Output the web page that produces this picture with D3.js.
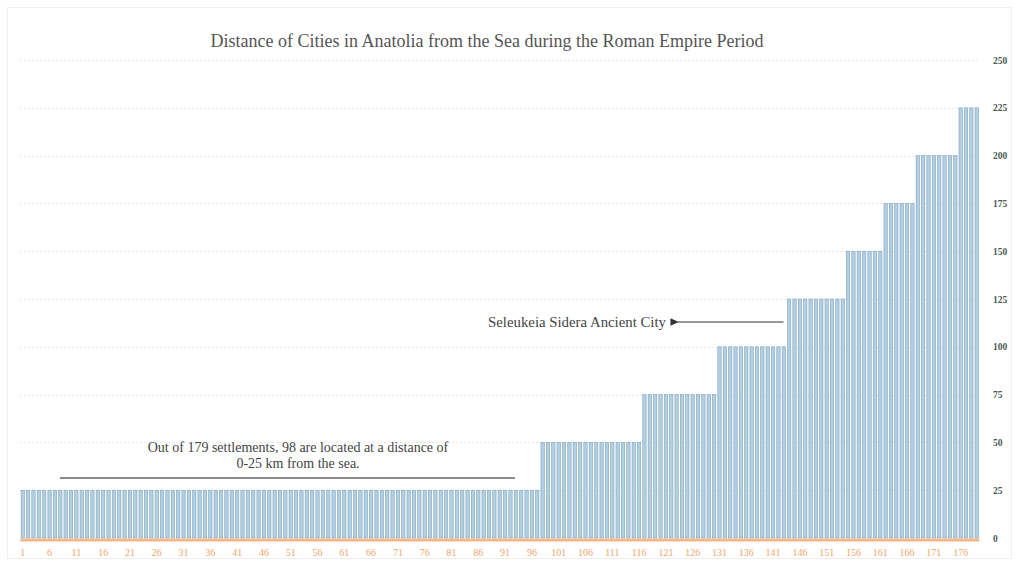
<!DOCTYPE html>
<html>
<head>
<meta charset="utf-8">
<script src="https://cdn.jsdelivr.net/npm/d3@7"></script>
<style>
  html, body { margin: 0; padding: 0; background: #fff; }
  svg { display: block; }
  text { font-family: "Liberation Serif", "Times New Roman", serif; }
</style>
</head>
<body>
<svg id="chart" width="1019" height="566"></svg>
<script>
// ---- data ----
const title = "Distance of Cities in Anatolia from the Sea during the Roman Empire Period";
const values = [
  25,25,25,25,25,25,25,25,25,25,25,25,25,25,25,25,25,25,25,25,
  25,25,25,25,25,25,25,25,25,25,25,25,25,25,25,25,25,25,25,25,
  25,25,25,25,25,25,25,25,25,25,25,25,25,25,25,25,25,25,25,25,
  25,25,25,25,25,25,25,25,25,25,25,25,25,25,25,25,25,25,25,25,
  25,25,25,25,25,25,25,25,25,25,25,25,25,25,25,25,25,
  50,50,50,50,50,50,50,50,50,50,50,50,50,50,50,50,50,50,50,
  75,75,75,75,75,75,75,75,75,75,75,75,75,75,
  100,100,100,100,100,100,100,100,100,100,100,100,100,
  125,125,125,125,125,125,125,125,125,125,125,
  150,150,150,150,150,150,150,
  175,175,175,175,175,175,
  200,200,200,200,200,200,200,200,
  225,225,225,225
];
const categories = values.map((v, i) => i + 1);
const xTickLabels = [1,6,11,16,21,26,31,36,41,46,51,56,61,66,71,76,81,86,91,96,101,106,111,116,121,126,131,136,141,146,151,156,161,166,171,176];
const yTicks = [0,25,50,75,100,125,150,175,200,225,250];
const noteLines = ["Out of 179 settlements, 98 are located at a distance of", "0-25 km from the sea."];
const arrowLabel = "Seleukeia Sidera Ancient City";
const arrowTarget = 144; // first bar of the 125 km group

// ---- layout ----
const svg = d3.select("#chart");
const pL = 20.3, pR = 979.2, pT = 60, pB = 538;

const x = d3.scaleBand().domain(categories).range([pL, pR]).paddingInner(0.38).paddingOuter(0.15);
const y = d3.scaleLinear().domain([0, 250]).range([pB, pT]);

// light frame
svg.append("rect").attr("x", 7.5).attr("y", 7.5).attr("width", 1004).attr("height", 551)
  .attr("fill", "none").attr("stroke", "#efefef").attr("stroke-width", 1);

// gridlines
svg.append("g").selectAll("line").data(yTicks.filter(d => d > 0)).join("line")
  .attr("x1", pL).attr("x2", pR)
  .attr("y1", d => Math.round(y(d)) + 0.5).attr("y2", d => Math.round(y(d)) + 0.5)
  .attr("stroke", "#e0e0e0").attr("stroke-width", 1).attr("stroke-dasharray", "1.5,2.5");

// bars
svg.append("g").selectAll("rect").data(values).join("rect")
  .attr("x", (d, i) => x(categories[i]))
  .attr("width", x.bandwidth())
  .attr("y", d => y(d))
  .attr("height", d => y(0) - y(d))
  .attr("fill", "#b2d0e4")
  .attr("stroke", "#7fa2b8")
  .attr("stroke-width", 0.6);

// x axis (orange)
const xAxis = d3.axisBottom(x).tickValues(xTickLabels).tickSize(0).tickPadding(9);
const gx = svg.append("g").attr("transform", `translate(0,${pB + 2})`).call(xAxis);
gx.select(".domain").attr("stroke", "#f5b58a").attr("stroke-width", 3)
  .attr("d", `M${pL},0H${pR}`);
gx.selectAll("text").attr("fill", "#f0a56c").attr("font-size", 10)
  .attr("font-family", "Liberation Serif, serif");

// y axis (right)
const yAxis = d3.axisRight(y).tickValues(yTicks).tickSize(0).tickPadding(0);
const gy = svg.append("g").attr("transform", `translate(993,0)`).call(yAxis);
gy.select(".domain").remove();
gy.selectAll("text").attr("fill", "#4a5a55").attr("font-size", 9.5).attr("font-weight", "bold")
  .attr("font-family", "Liberation Serif, serif");

// title
svg.append("text").attr("x", 487).attr("y", 47).attr("text-anchor", "middle")
  .attr("font-size", 18).attr("fill", "#555").text(title);

// note with line
svg.append("line").attr("x1", 60).attr("x2", 515).attr("y1", 478).attr("y2", 478)
  .attr("stroke", "#666").attr("stroke-width", 1.5);
svg.append("g").selectAll("text").data(noteLines).join("text")
  .attr("x", 298).attr("y", (d, i) => 452 + i * 16).attr("text-anchor", "middle")
  .attr("font-size", 14).attr("fill", "#444").text(d => d);

// arrow annotation
const defs = svg.append("defs");
defs.append("marker").attr("id", "ah").attr("viewBox", "0 0 10 10").attr("refX", 1).attr("refY", 5)
  .attr("markerWidth", 7).attr("markerHeight", 7).attr("orient", "auto-start-reverse")
  .append("path").attr("d", "M0,5 L10,0.5 L10,9.5 Z").attr("fill", "#333");
const ay = 322;
svg.append("line").attr("x1", x(arrowTarget) - 4).attr("x2", 678).attr("y1", ay).attr("y2", ay)
  .attr("stroke", "#333").attr("stroke-width", 1.2).attr("marker-end", "url(#ah)");
svg.append("text").attr("x", 666).attr("y", ay + 5).attr("text-anchor", "end")
  .attr("font-size", 14.8).attr("fill", "#444").text(arrowLabel);
</script>
</body>
</html>
